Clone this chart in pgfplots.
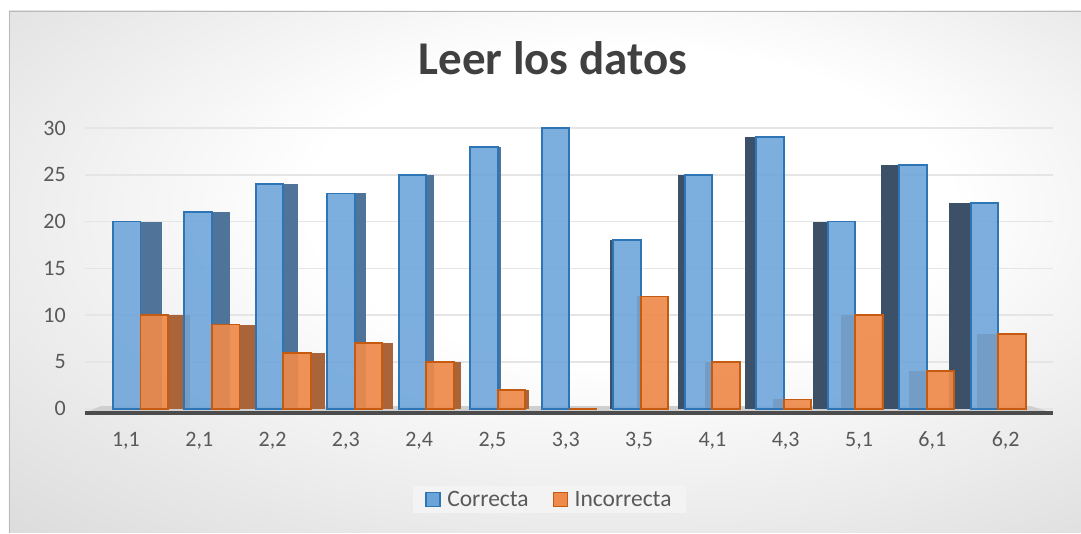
\documentclass[border=0pt]{standalone}
\usepackage{fontspec}
\setmainfont{Carlito}
\usepackage{pgfplots}
\pgfplotsset{compat=1.18}
\definecolor{bgmid}{HTML}{D3D3D3}
\definecolor{bgedge}{HTML}{BBBBBB}
\definecolor{blueF}{HTML}{6CA4DA}
\definecolor{blueE}{HTML}{2E75B6}
\definecolor{blueSR}{HTML}{4F7399}
\definecolor{blueSL}{HTML}{3C5068}
\definecolor{orF}{HTML}{EE8A4A}
\definecolor{orE}{HTML}{C55A11}
\definecolor{orS}{HTML}{A9643A}
\definecolor{txt}{HTML}{595959}
\definecolor{ttl}{HTML}{404040}
\definecolor{legbg}{HTML}{F3F3F3}
\pgfdeclareradialshading{bgshade}{\pgfpoint{5bp}{8bp}}{color(0bp)=(white); color(15bp)=(white); color(46bp)=(bgmid); color(75bp)=(bgedge)}
\newcommand{\side}[5]{\addplot[ybar, bar width=#4, bar shift=#5, fill=#3, draw=none, forget plot] coordinates {(#1,#2)};}
\begin{document}
\begin{tikzpicture}
\path (0bp,0bp) rectangle (1081bp,533bp);
\shade[shading=bgshade] (9bp,0bp) rectangle (1081bp,522bp);
\draw[gray!55, line width=0.8bp] (9bp,0bp) -- (9bp,522bp) -- (1081bp,522bp);
\node[font=\fontsize{47bp}{56bp}\selectfont\bfseries, text=ttl, anchor=base] at (553bp,458bp) {Leer los datos};
\begin{axis}[
  at={(85bp,120bp)}, anchor=south west,
  scale only axis, width=968bp, height=285bp,
  xmin=-0.776, xmax=12.762, ymin=-0.43, ymax=30,
  axis line style={draw=none}, tick style={draw=none},
  ytick={0,5,10,15,20,25,30},
  ymajorgrids, grid style={gray!20, line width=1.5bp},
  yticklabel style={anchor=east, inner sep=0pt, xshift=-19bp, font=\fontsize{22bp}{26bp}\selectfont, text=txt},
  /pgf/number format/assume math mode=true,
  xtick={-0.203,0.823,1.848,2.874,3.900,4.925,5.951,6.977,8.002,9.028,10.054,11.079,12.105},
  xticklabels={{1,1},{2,1},{2,2},{2,3},{2,4},{2,5},{3,3},{3,5},{4,1},{4,3},{5,1},{6,1},{6,2}},
  xticklabel style={anchor=north, inner sep=0pt, yshift=-19bp, font=\fontsize{22bp}{26bp}\selectfont, text=txt},
  legend style={at={(0.48,-0.305)}, anchor=center, legend columns=2, fill=legbg, draw=none,
    font=\fontsize{23.5bp}{27bp}\selectfont, text=txt, inner xsep=12bp, inner ysep=3bp,
    /tikz/every even column/.append style={column sep=22bp}},
  clip=false,
]
% floor
\fill[gray!38] (axis cs:-0.776,-0.43) -- (axis cs:12.762,-0.43) -- (axis cs:12.45,0.3) -- (axis cs:-0.55,0.3) -- cycle;
\draw[black!70, line width=3.5bp] (axis cs:-0.776,-0.43) -- (axis cs:12.762,-0.43);
% orange side faces
\side{0}{10}{orS}{0.302}{0.536}
\side{1}{9}{orS}{0.252}{0.511}
\side{2}{6}{orS}{0.201}{0.4855}
\side{3}{7}{orS}{0.151}{0.4605}
\side{4}{5}{orS}{0.101}{0.4355}
\side{5}{2}{orS}{0.050}{0.41}
\side{7}{12}{orS}{0.050}{-0.025}
\side{8}{5}{orS}{0.101}{-0.0505}
\side{9}{1}{orS}{0.151}{-0.0755}
\side{10}{10}{orS}{0.201}{-0.1005}
\side{11}{4}{orS}{0.252}{-0.126}
\side{12}{8}{orS}{0.302}{-0.151}
% blue side faces
\side{0}{20}{blueSR}{0.302}{0.151}
\side{1}{21}{blueSR}{0.252}{0.126}
\side{2}{24}{blueSR}{0.201}{0.1005}
\side{3}{23}{blueSR}{0.151}{0.0755}
\side{4}{25}{blueSR}{0.101}{0.0505}
\side{5}{28}{blueSR}{0.050}{0.025}
\side{7}{18}{blueSL}{0.050}{-0.41}
\side{8}{25}{blueSL}{0.101}{-0.4355}
\side{9}{29}{blueSL}{0.151}{-0.4605}
\side{10}{20}{blueSL}{0.201}{-0.4855}
\side{11}{26}{blueSL}{0.252}{-0.511}
\side{12}{22}{blueSL}{0.302}{-0.536}
% fronts
\addplot[ybar, bar width=0.385, bar shift=-0.1925, fill=blueF, fill opacity=0.88, draw=blueE, line width=1.8bp, forget plot]
  coordinates {(0,20) (1,21) (2,24) (3,23) (4,25) (5,28) (6,30) (7,18) (8,25) (9,29) (10,20) (11,26) (12,22)};
\addplot[ybar, bar width=0.385, bar shift=0.1925, fill=orF, fill opacity=0.92, draw=orE, line width=1.8bp, forget plot]
  coordinates {(0,10) (1,9) (2,6) (3,7) (4,5) (5,2) (6,0) (7,12) (8,5) (9,1) (10,10) (11,4) (12,8)};
\addlegendimage{legend image code/.code={\draw[fill=blueF, draw=blueE, line width=1.5bp] (0bp,-7bp) rectangle (14bp,7bp); \path (19bp,0bp);}}
\addlegendentry{Correcta}
\addlegendimage{legend image code/.code={\draw[fill=orF, draw=orE, line width=1.5bp] (0bp,-7bp) rectangle (14bp,7bp); \path (19bp,0bp);}}
\addlegendentry{Incorrecta}
\end{axis}
\end{tikzpicture}
\end{document}
